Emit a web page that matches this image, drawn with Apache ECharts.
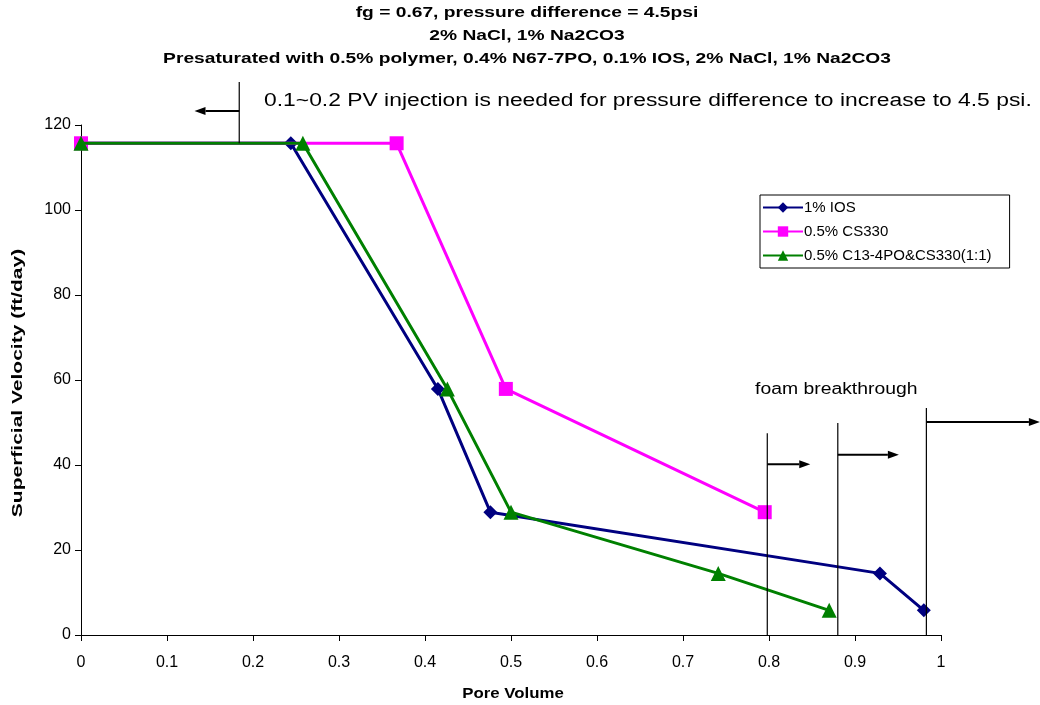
<!DOCTYPE html>
<html>
<head>
<meta charset="utf-8">
<script src="https://cdn.jsdelivr.net/npm/echarts@6/dist/echarts.min.js"></script>
<style>
  html, body { margin: 0; padding: 0; background: #fff; }
  #chart { width: 1040px; height: 705px; }
</style>
</head>
<body>
<div id="chart"></div>
<script>
// Superficial velocity vs pore volume for three surfactant systems
const iosPV = [0, 0.244, 0.415, 0.476, 0.929, 0.980];
const iosVel = [115.7, 115.7, 57.9, 28.9, 14.5, 5.8];

const cs330PV = [0, 0.367, 0.494, 0.795];
const cs330Vel = [115.7, 115.7, 57.9, 28.9];

const blendPV = [0, 0.258, 0.426, 0.500, 0.741, 0.870];
const blendVel = [115.7, 115.7, 57.9, 28.9, 14.5, 5.8];

const seriesNames = ['1% IOS', '0.5% CS330', '0.5% C13-4PO&CS330(1:1)'];
const xTicks = [0, 0.1, 0.2, 0.3, 0.4, 0.5, 0.6, 0.7, 0.8, 0.9, 1];
const yTicks = [0, 20, 40, 60, 80, 100, 120];

const titleLines = [
  'fg = 0.67, pressure difference = 4.5psi',
  '2% NaCl, 1% Na2CO3',
  'Presaturated with 0.5% polymer, 0.4% N67-7PO, 0.1% IOS, 2% NaCl, 1% Na2CO3'
];
const xAxisTitle = 'Pore Volume';
const yAxisTitle = 'Superficial Velocity (ft/day)';

// Annotation guide lines: [x, yBottom, yTop] in data units
const guideLines = [
  [0.184, 115.7, 130.1],
  [0.798, 0, 47.5],
  [0.880, 0, 49.9],
  [0.983, 0, 53.4]
];
// Arrows: [xFrom, xTo, y] in data units
const arrows = [
  [0.184, 0.132, 123.3],
  [0.798, 0.848, 40.2],
  [0.880, 0.951, 42.4],
  [0.983, 1.115, 50.1]
];
const injectionNote = '0.1~0.2 PV injection is needed for pressure difference to increase to 4.5 psi.';
const breakthroughNote = 'foam breakthrough';

const pair = (xs, ys) => xs.map((x, i) => [x, ys[i]]);

const chart = echarts.init(document.getElementById('chart'));
const FONT = 'Liberation Sans, Arial, sans-serif';

const option = {
  animation: false,
  backgroundColor: '#fff',
  grid: { left: 81, top: 125, width: 860, height: 510, containLabel: false },
  legend: {
    orient: 'vertical',
    left: 760,
    top: 195,
    padding: [5, 18, 5, 2],
    itemGap: 9,
    itemWidth: 40,
    itemHeight: 13,
    borderColor: '#000',
    borderWidth: 1,
    borderRadius: 0,
    backgroundColor: '#fff',
    textStyle: { fontFamily: FONT, fontSize: 15, color: '#000', padding: [0, 0, 0, -4] },
    data: seriesNames
  },
  xAxis: {
    type: 'value',
    min: 0, max: 1, interval: 0.1,
    axisLine: { onZero: false, lineStyle: { color: '#000', width: 1 } },
    axisTick: { show: true, inside: false, length: 6, lineStyle: { color: '#000' } },
    axisLabel: {
      fontFamily: FONT, fontSize: 16, color: '#000', margin: 20,
      formatter: v => String(xTicks.find(t => Math.abs(t - v) < 1e-9) ?? v)
    },
    splitLine: { show: false }
  },
  yAxis: {
    type: 'value',
    min: 0, max: 120, interval: 20,
    axisLine: { show: true, lineStyle: { color: '#000', width: 1 } },
    axisTick: { show: true, inside: false, length: 6, lineStyle: { color: '#000' } },
    axisLabel: {
      fontFamily: FONT, fontSize: 16, color: '#000', margin: 10,
      formatter: v => String(yTicks.find(t => t === v) ?? v)
    },
    splitLine: { show: false }
  },
  series: [
    {
      name: seriesNames[0], type: 'line', data: pair(iosPV, iosVel),
      color: '#000080', symbol: 'diamond', symbolSize: 14,
      lineStyle: { width: 3, color: '#000080' }, itemStyle: { color: '#000080' },
      z: 2
    },
    {
      name: seriesNames[1], type: 'line', data: pair(cs330PV, cs330Vel),
      color: '#FF00FF', symbol: 'rect', symbolSize: 14,
      lineStyle: { width: 3, color: '#FF00FF' }, itemStyle: { color: '#FF00FF' },
      z: 3
    },
    {
      name: seriesNames[2], type: 'line', data: pair(blendPV, blendVel),
      color: '#008000', symbol: 'triangle', symbolSize: 15,
      lineStyle: { width: 3, color: '#008000' }, itemStyle: { color: '#008000' },
      z: 4
    }
  ]
};

chart.setOption(option);

// Overlay annotations, positioned through the chart's own coordinate system
function toPx(x, y) { return chart.convertToPixel({ gridIndex: 0 }, [x, y]); }

function label(text, x, y, size, bold, stretch, align, extra) {
  return Object.assign({
    type: 'text', z: 10, x: x, y: y, scaleX: stretch,
    style: {
      text: text,
      font: (bold ? 'bold ' : '') + size + 'px ' + FONT,
      fill: '#000', align: align || 'center', verticalAlign: 'middle'
    }
  }, extra || {});
}

const graphics = [];

// Chart title, three centred lines
titleLines.forEach((line, i) => {
  graphics.push(label(line, 527, 13 + i * 23, 15, true, 1.28));
});

// Axis titles
graphics.push(label(xAxisTitle, 513, 694, 14, true, 1.2));
graphics.push(label(yAxisTitle, 18, 383, 15, true, 1.4, 'center', { rotation: Math.PI / 2 }));

guideLines.forEach(([x, y0, y1]) => {
  const a = toPx(x, y0), b = toPx(x, y1);
  graphics.push({
    type: 'line', z: 10,
    shape: { x1: a[0], y1: a[1], x2: b[0], y2: b[1] },
    style: { stroke: '#000', lineWidth: 1.2 }
  });
});
arrows.forEach(([x0, x1, y]) => {
  const a = toPx(x0, y), b = toPx(x1, y);
  const dir = b[0] > a[0] ? 1 : -1;
  const headLen = 11, headHalf = 4;
  graphics.push({
    type: 'line', z: 10,
    shape: { x1: a[0], y1: a[1], x2: b[0] - dir * headLen, y2: b[1] },
    style: { stroke: '#000', lineWidth: 2 }
  });
  graphics.push({
    type: 'polygon', z: 10,
    shape: { points: [[b[0], b[1]], [b[0] - dir * headLen, b[1] - headHalf], [b[0] - dir * headLen, b[1] + headHalf]] },
    style: { fill: '#000' }
  });
});

graphics.push(label(injectionNote, 264, 101, 18, false, 1.27, 'left'));
graphics.push(label(breakthroughNote, 755, 390, 16, false, 1.21, 'left'));

chart.setOption({ graphic: graphics });
</script>
</body>
</html>
